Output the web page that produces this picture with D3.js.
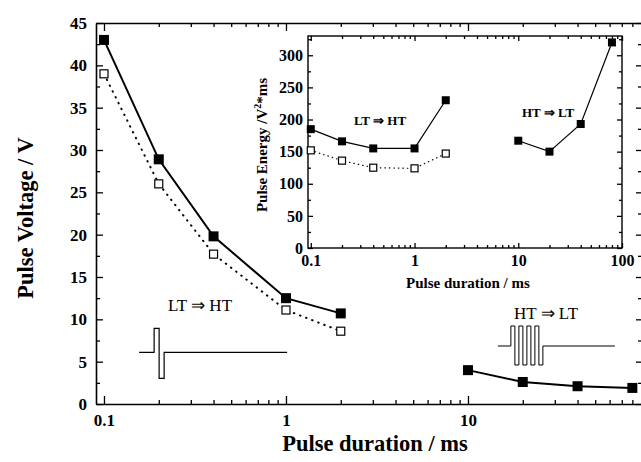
<!DOCTYPE html>
<html>
<head>
<meta charset="utf-8">
<script src="https://cdn.jsdelivr.net/npm/d3@7"></script>
<style>
  body { margin: 0; background: #fff; }
  svg { display: block; font-family: "Liberation Serif", "Times New Roman", serif; }
  .domain { stroke: #000; stroke-width: 1.6; }
  .tick line { stroke: #000; stroke-width: 1.3; }
  .tick text { font-weight: bold; fill: #000; }
</style>
</head>
<body>
<svg width="641" height="462"></svg>
<script>
const svg = d3.select("svg");
const serif = "Liberation Serif, Times New Roman, serif";

// durations in ms
const durLow = [0.1, 0.2, 0.4, 1, 2];
const durHigh = [10, 20, 40, 80];

// main plot : pulse voltage (V)
const voltLTHT_filled = [43, 28.9, 19.8, 12.5, 10.7];
const voltLTHT_open = [39, 26, 17.7, 11.1, 8.6];
const voltHTLT_filled = [4, 2.6, 2.1, 1.9];

// inset : pulse energy (V^2*ms)
const energyLTHT_filled = [185, 166, 155, 155, 230];
const energyLTHT_open = [152, 136, 125, 124, 147];
const energyHTLT_filled = [167, 150, 193, 320];

const mainXMajor = [0.1, 1, 10];
const mainYMajor = [0, 5, 10, 15, 20, 25, 30, 35, 40, 45];
const insetXMajor = [0.1, 1, 10, 100];
const insetYMajor = [0, 50, 100, 150, 200, 250, 300];

// minor log ticks 2..9 of each decade
function logMinors(lo, hi) {
  let out = [];
  for (let d = 0.1; d < 100; d *= 10) {
    for (let k = 2; k <= 9; k++) {
      let v = +(k * d).toPrecision(3);
      if (v >= lo && v <= hi) out.push(v);
    }
  }
  return out;
}

/* ---------------- main plot ---------------- */
const x = d3.scaleLog().domain([0.0904, 90.4]).range([96, 642]);
const y = d3.scaleLinear().domain([0, 45]).range([404, 23]);

const fmt = d => d3.format("~g")(d);

// minor ticks (inward)
svg.append("g").attr("transform", "translate(0,404)")
  .call(d3.axisBottom(x).tickValues(logMinors(0.0904, 90.4)).tickSize(-4).tickFormat(""))
  .call(g => g.select(".domain").remove());
svg.append("g").attr("transform", "translate(0,23)")
  .call(d3.axisTop(x).tickValues(logMinors(0.0904, 90.4)).tickSize(-4).tickFormat(""))
  .call(g => g.select(".domain").remove());
svg.append("g").attr("transform", "translate(96,0)")
  .call(d3.axisLeft(y).tickValues(d3.range(2.5, 45, 5)).tickSize(-4).tickFormat(""))
  .call(g => g.select(".domain").remove());
svg.append("g").attr("transform", "translate(642,0)")
  .call(d3.axisRight(y).tickValues(d3.range(2.5, 45, 5)).tickSize(-4).tickFormat(""))
  .call(g => g.select(".domain").remove());

// major ticks + labels
svg.append("g").attr("transform", "translate(0,404)")
  .call(d3.axisBottom(x).tickValues(mainXMajor).tickSize(-8).tickSizeOuter(0).tickPadding(10).tickFormat(fmt))
  .attr("font-family", serif).attr("font-size", 17);
svg.append("g").attr("transform", "translate(0,23)")
  .call(d3.axisTop(x).tickValues(mainXMajor).tickSize(-8).tickSizeOuter(0).tickFormat(""));
svg.append("g").attr("transform", "translate(96,0)")
  .call(d3.axisLeft(y).tickValues(mainYMajor).tickSize(-7).tickSizeOuter(0).tickPadding(9))
  .attr("font-family", serif).attr("font-size", 17);
svg.append("g").attr("transform", "translate(642,0)")
  .call(d3.axisRight(y).tickValues(mainYMajor).tickSize(-6).tickSizeOuter(0).tickFormat(""));

// axis titles
svg.append("text").attr("x", 375).attr("y", 451).attr("text-anchor", "middle")
  .attr("font-size", 22.5).attr("font-weight", "bold").text("Pulse duration / ms");
svg.append("text").attr("transform", "translate(33,218) rotate(-90)").attr("text-anchor", "middle")
  .attr("font-size", 22.5).attr("font-weight", "bold").text("Pulse Voltage / V");

function drawSeries(g, xs, ys, xv, yv, opt) {
  const pts = xv.map((d, i) => [xs(d), ys(yv[i])]);
  g.append("path")
    .attr("d", d3.line()(pts))
    .attr("fill", "none").attr("stroke", "#000")
    .attr("stroke-width", opt.lw)
    .attr("stroke-dasharray", opt.dash || null)
    .attr("stroke-linecap", opt.dash ? "round" : "butt");
  g.selectAll(null).data(pts).join("rect")
    .attr("x", d => d[0] - opt.size / 2).attr("y", d => d[1] - opt.size / 2)
    .attr("width", opt.size).attr("height", opt.size)
    .attr("fill", opt.filled ? "#000" : "#fff")
    .attr("stroke", "#000").attr("stroke-width", opt.filled ? 0 : 1.2);
}

const mainG = svg.append("g");
drawSeries(mainG, x, y, durLow, voltLTHT_open, {lw: 2, dash: "0.5,6", size: 8, filled: false});
drawSeries(mainG, x, y, durLow, voltLTHT_filled, {lw: 2, size: 10, filled: true});
drawSeries(mainG, x, y, durHigh, voltHTLT_filled, {lw: 2, size: 10, filled: true});

// annotations
svg.append("text").attr("x", 200).attr("y", 311).attr("text-anchor", "middle")
  .attr("font-size", 17).text("LT \u21D2 HT");
svg.append("text").attr("x", 546).attr("y", 319).attr("text-anchor", "middle")
  .attr("font-size", 17).text("HT \u21D2 LT");

// pulse schematics (pixel offsets from an anchor on the main scales)
const pulse1 = [[0, 0], [15, 0], [15, -24], [20, -24], [20, 26], [25, 26], [25, 0], [148, 0]];
const a1 = [x(0.156), y(6.1)];
svg.append("path")
  .attr("d", d3.line()(pulse1.map(p => [a1[0] + p[0], a1[1] + p[1]])))
  .attr("fill", "none").attr("stroke", "#000").attr("stroke-width", 1.2);

let pulse2 = [[0, 0], [13, 0]];
for (let k = 0; k < 8; k++) {
  const yy = k % 2 === 0 ? -20 : 19;
  pulse2.push([13 + k * 4, yy], [13 + (k + 1) * 4, yy]);
}
pulse2.push([45, 0], [117, 0]);
const a2 = [x(14.6), y(6.85)];
svg.append("path")
  .attr("d", d3.line()(pulse2.map(p => [a2[0] + p[0], a2[1] + p[1]])))
  .attr("fill", "none").attr("stroke", "#000").attr("stroke-width", 1);

/* ---------------- inset ---------------- */
const ix = d3.scaleLog().domain([0.094, 100]).range([308, 622]);
const iy = d3.scaleLinear().domain([0, 330]).range([248, 36]);

svg.append("rect").attr("x", 308).attr("y", 36).attr("width", 314).attr("height", 212)
  .attr("fill", "#fff").attr("stroke", "#000").attr("stroke-width", 1.4);

const insetMinX = logMinors(0.094, 100);
svg.append("g").attr("transform", "translate(0,248)")
  .call(d3.axisBottom(ix).tickValues(insetMinX).tickSize(-3).tickFormat(""))
  .call(g => g.select(".domain").remove());
svg.append("g").attr("transform", "translate(0,36)")
  .call(d3.axisTop(ix).tickValues(insetMinX).tickSize(-3).tickFormat(""))
  .call(g => g.select(".domain").remove());
svg.append("g").attr("transform", "translate(308,0)")
  .call(d3.axisLeft(iy).tickValues(d3.range(25, 330, 50)).tickSize(-3).tickFormat(""))
  .call(g => g.select(".domain").remove());
svg.append("g").attr("transform", "translate(622,0)")
  .call(d3.axisRight(iy).tickValues(d3.range(25, 330, 50)).tickSize(-3).tickFormat(""))
  .call(g => g.select(".domain").remove());

svg.append("g").attr("transform", "translate(0,248)")
  .call(d3.axisBottom(ix).tickValues(insetXMajor).tickSize(-5).tickSizeOuter(0).tickPadding(7).tickFormat(fmt))
  .call(g => g.select(".domain").remove())
  .attr("font-family", serif).attr("font-size", 16);
svg.append("g").attr("transform", "translate(0,36)")
  .call(d3.axisTop(ix).tickValues(insetXMajor).tickSize(-5).tickFormat(""))
  .call(g => g.select(".domain").remove());
svg.append("g").attr("transform", "translate(308,0)")
  .call(d3.axisLeft(iy).tickValues(insetYMajor).tickSize(-5).tickSizeOuter(0).tickPadding(5))
  .call(g => g.select(".domain").remove())
  .attr("font-family", serif).attr("font-size", 16);
svg.append("g").attr("transform", "translate(622,0)")
  .call(d3.axisRight(iy).tickValues(insetYMajor).tickSize(-5).tickFormat(""))
  .call(g => g.select(".domain").remove());

svg.append("text").attr("x", 468).attr("y", 288).attr("text-anchor", "middle")
  .attr("font-size", 15).attr("font-weight", "bold").text("Pulse duration / ms");
const yt = svg.append("text").attr("transform", "translate(267,145) rotate(-90)")
  .attr("text-anchor", "middle").attr("font-size", 15).attr("font-weight", "bold");
yt.append("tspan").text("Pulse Energy /V");
yt.append("tspan").attr("font-size", 10).attr("dy", -6).text("2");
yt.append("tspan").attr("dy", 6).text("*ms");

const insetG = svg.append("g");
drawSeries(insetG, ix, iy, durLow, energyLTHT_open, {lw: 1.2, dash: "0.5,4", size: 7, filled: false});
drawSeries(insetG, ix, iy, durLow, energyLTHT_filled, {lw: 1.2, size: 8, filled: true});
drawSeries(insetG, ix, iy, durHigh, energyHTLT_filled, {lw: 1.2, size: 8, filled: true});

svg.append("text").attr("x", 380).attr("y", 125).attr("text-anchor", "middle")
  .attr("font-size", 13).attr("font-weight", "bold").text("LT \u21D2 HT");
svg.append("text").attr("x", 548).attr("y", 117).attr("text-anchor", "middle")
  .attr("font-size", 13).attr("font-weight", "bold").text("HT \u21D2 LT");
</script>
</body>
</html>
